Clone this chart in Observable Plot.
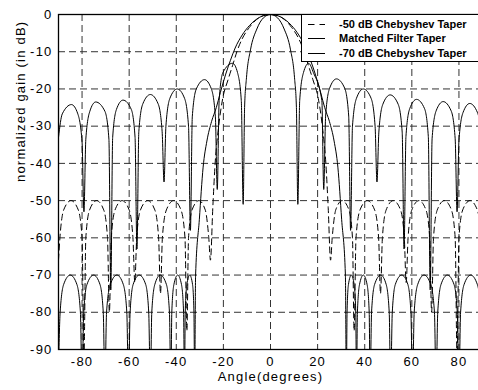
<!DOCTYPE html>
<html>
<head>
<meta charset="utf-8">
<script src="https://cdn.jsdelivr.net/npm/d3@7"></script>
<script src="https://cdn.jsdelivr.net/npm/@observablehq/plot@0.6"></script>
<style>
  html, body { margin: 0; padding: 0; background: #fff; overflow: hidden; width: 478px; height: 390px; }
  #wrap { position: relative; width: 483px; height: 390px; }
  #legend { position: absolute; left: 301px; top: 14px; width: 190px; height: 46px; border: 1px solid #000; background: #fff;
            font: bold 11px "Liberation Sans", Arial, sans-serif; color: #000; }
  .row { position: absolute; left: 0; height: 14px; width: 100%; }
  .row svg { position: absolute; left: 6px; top: 0; }
  .row span { position: absolute; left: 37px; top: 0; line-height: 14px; white-space: nowrap; }
</style>
</head>
<body>
<div id="wrap"></div>
<script>
// Series names (legend order)
const seriesNames = ["-50 dB Chebyshev Taper", "Matched Filter Taper", "-70 dB Chebyshev Taper"];
const xTicks = [-80, -60, -40, -20, 0, 20, 40, 60, 80];
const yTicks = [0, -10, -20, -30, -40, -50, -60, -70, -80, -90];
const xLabel = "Angle(degrees)";
const yLabel = "normalized gain (in dB)";

// [angle (deg), gain (dB)]
const cheb50 = [
  [-90,-66],[-89.4,-60],[-87.8,-52.5],[-84.7,-50],[-81.6,-52.5],[-80,-60],[-79.2,-92],
  [-78.4,-60],[-76.8,-52.5],[-73.8,-50],[-70.8,-52.5],[-69.2,-60],[-68.4,-80],
  [-67.6,-60],[-66,-52.5],[-63,-50],[-60,-52.5],[-58.4,-60],[-57.6,-72],
  [-56.8,-60],[-55.2,-52.5],[-52.1,-50],[-49.1,-52.5],[-47.5,-60],[-46.7,-75],
  [-45.9,-60],[-44.2,-52.5],[-41.1,-50],[-38,-52.5],[-36.3,-60],[-35.5,-85],
  [-34.8,-60],[-33.3,-52.5],[-30.4,-50],[-27.7,-52.5],[-26.2,-60],[-25.5,-66],
  [-24.5,-52],[-23.5,-40],[-22,-30],[-20.3,-22.6],[-18,-17.5],[-16,-13.5],[-14,-9.5],[-12,-6.5],[-9,-3.5],[-6,-1.4],[-3,-0.3],[0,0],
  [3,-0.3],[6,-1.4],[9,-3.5],[12,-6.5],[14,-9.5],[16,-13.5],[18,-17.5],[20.3,-22.6],[22,-30],[23.5,-40],[24.5,-52],[25.5,-66],
  [26.2,-60],[27.7,-52.5],[30.4,-50],[33.3,-52.5],[34.8,-60],[35.5,-85],
  [36.3,-60],[38,-52.5],[41.1,-50],[44.2,-52.5],[45.9,-60],[46.7,-75],
  [47.5,-60],[49.1,-52.5],[52.1,-50],[55.2,-52.5],[56.8,-60],[57.6,-72],
  [58.4,-60],[60,-52.5],[63,-50],[66,-52.5],[67.6,-60],[68.4,-80],
  [69.2,-60],[70.8,-52.5],[73.8,-50],[76.8,-52.5],[78.4,-60],[79.2,-92],
  [80,-60],[81.6,-52.5],[84.7,-50],[87.8,-52.5],[89.4,-60],[90,-66]
];

const matched = [
  [-90,-33],[-88.4,-26.7],[-84.5,-24.2],[-81.8,-26.7],[-80,-34.2],[-79.2,-53],
  [-78.4,-33.5],[-76.7,-26],[-74.2,-23.5],[-70.3,-26],[-68.6,-33.5],[-67.8,-74],
  [-67,-33],[-65.4,-25.5],[-62.6,-23],[-59.1,-25.5],[-57.5,-33],[-56.7,-63],
  [-55.9,-31.5],[-54.2,-24],[-51,-21.5],[-47.7,-24],[-46,-31.5],[-45.2,-45],
  [-44.4,-30],[-42.7,-22.5],[-39.6,-20],[-36.5,-22.5],[-34.8,-30],[-34,-58],
  [-33.2,-27.5],[-31.5,-20],[-28,-17.5],[-25.1,-20],[-23.4,-27.5],[-22.6,-47],
  [-21.8,-23.1],[-20.2,-15.6],[-16.1,-13.1],[-14,-15.6],[-12.4,-23.1],[-11.6,-51],
  [-11,-25],[-10.2,-17],[-8.5,-9.5],[-5.8,-3.9],[-3,-0.9],[0,0],[3,-0.9],[5.8,-3.9],[8.5,-9.5],[10.2,-17],[11,-25],[11.6,-51],
  [12.4,-23.1],[14,-15.6],[16.2,-13.1],[18.2,-15.6],[21.8,-23.1],[22.6,-47],
  [23.4,-27.3],[25.1,-19.8],[28,-17.3],[31.5,-19.8],[33.2,-27.3],[34,-58],
  [34.8,-30],[36.5,-22.5],[39.4,-20],[42.7,-22.5],[44.4,-30],[45.2,-45],
  [46,-31.6],[47.7,-24.1],[50.8,-21.6],[54.2,-24.1],[55.9,-31.6],[56.7,-63],
  [57.5,-32.8],[59.1,-25.3],[62,-22.8],[65.4,-25.3],[67,-32.8],[67.8,-74],
  [68.6,-33.4],[70.3,-25.9],[73.3,-23.4],[76.7,-25.9],[78.4,-33.4],[79.2,-53],
  [80,-33.9],[81.7,-26.4],[84.6,-23.9],[87.9,-26.4],[89.6,-33.9],[90,-38]
];

const cheb70 = [
  [-90,-95],[-89.3,-80],[-87.8,-72.5],[-85,-70],[-82.2,-72.5],[-80.7,-80],[-80,-100],
  [-79.3,-80],[-77.9,-72.5],[-75.1,-70],[-72.4,-72.5],[-71,-80],[-70.3,-100],
  [-69.6,-80],[-68,-72.5],[-65.2,-70],[-62.5,-72.5],[-61,-80],[-60.3,-100],
  [-59.6,-80],[-58.3,-72.5],[-55.7,-70],[-53,-72.5],[-51.7,-80],[-51,-100],
  [-50.4,-80],[-49.1,-72.5],[-46.8,-70],[-44.2,-72.5],[-42.9,-80],[-42.3,-100],
  [-41.9,-80],[-41,-72.5],[-39.4,-70],[-37.8,-72.5],[-36.9,-80],[-36.5,-100],
  [-36.2,-80],[-35.5,-72.5],[-34.3,-70],[-33.1,-72.5],[-32.5,-80],[-32.2,-100],
  [-31.8,-70],[-30.2,-55],[-28.6,-41],[-27,-34],[-25,-28.7],[-23,-25],[-21.3,-21],[-19,-16],[-17,-12.3],[-15,-9],[-12,-5.5],[-9,-3],[-6,-1.3],[-3,-0.3],[0,0],
  [3,-0.3],[6,-1.3],[9,-3],[12,-5.5],[15,-9],[17,-12.3],[19,-16],[21.3,-21],[23,-25],[25,-28.7],[27,-34],[28.6,-41],[30.2,-55],[31.8,-70],
  [32.2,-100],[32.5,-80],[33.1,-72.5],[34.3,-70],[35.5,-72.5],[36.2,-80],[36.5,-100],
  [36.9,-80],[37.8,-72.5],[39.4,-70],[41,-72.5],[41.9,-80],[42.3,-100],
  [42.9,-80],[44.2,-72.5],[46.8,-70],[49.1,-72.5],[50.4,-80],[51,-100],
  [51.7,-80],[53,-72.5],[55.7,-70],[58.3,-72.5],[59.6,-80],[60.3,-100],
  [61,-80],[62.5,-72.5],[65.2,-70],[68,-72.5],[69.6,-80],[70.3,-100],
  [71,-80],[72.4,-72.5],[75.1,-70],[77.9,-72.5],[79.3,-80],[80,-100],
  [80.7,-80],[82.2,-72.5],[85,-70],[87.8,-72.5],[89.3,-80],[90,-95]
];

const toRows = (arr, name) => arr.map(([angle, gain]) => ({series: name, angle, gain}));
const rows50 = toRows(cheb50, seriesNames[0]);
const rowsMF = toRows(matched, seriesNames[1]);
const rows70 = toRows(cheb70, seriesNames[2]);

const lineOpts = {x: "angle", y: "gain", curve: "monotone-x", stroke: "#000", strokeWidth: 1, clip: true};
const gridOpts = {stroke: "#333", strokeOpacity: 1, strokeWidth: 1, strokeDasharray: "7,4"};

const chart = Plot.plot({
  width: 483,
  height: 390,
  marginLeft: 58,
  marginRight: 1,
  marginTop: 14,
  marginBottom: 41,
  style: {fontFamily: "'Liberation Sans', Arial, sans-serif", fontSize: "13px", letterSpacing: "1.2px", color: "#000", background: "#fff", maxWidth: "none"},
  x: {domain: [-90, 90], ticks: xTicks, tickFormat: d => String(d), tickSize: 0, tickPadding: 7, label: null},
  y: {domain: [-90, 0], ticks: yTicks, tickFormat: d => String(d), tickSize: 0, tickPadding: 6, label: null},
  marks: [
    Plot.gridX({ticks: xTicks, ...gridOpts}),
    Plot.gridY({ticks: yTicks, ...gridOpts}),
    Plot.line(rows50, {...lineOpts, strokeDasharray: "6,4"}),
    Plot.line(rowsMF, lineOpts),
    Plot.line(rows70, lineOpts),
    Plot.frame({stroke: "#000", strokeWidth: 1.3}),
    Plot.text([xLabel], {text: d => d, frameAnchor: "bottom", dy: 31.5, fontSize: 13}),
    Plot.text([yLabel], {text: d => d, frameAnchor: "left", dx: -38, rotate: -90, fontSize: 13})
  ]
});

const wrap = document.getElementById("wrap");
wrap.appendChild(chart);

// Legend box (inside plot area, top right)
const legend = document.createElement("div");
legend.id = "legend";
const rowTops = [2, 16.3, 31];
const dashes = ["6.5,5", null, null];
seriesNames.forEach((name, i) => {
  const row = document.createElement("div");
  row.className = "row";
  row.style.top = rowTops[i] + "px";
  const svg = d3.create("svg").attr("width", 18).attr("height", 14);
  svg.append("line").attr("x1", 0).attr("x2", 17).attr("y1", 7.5).attr("y2", 7.5)
    .attr("stroke", "#000").attr("stroke-width", 1)
    .attr("stroke-dasharray", dashes[i]);
  row.appendChild(svg.node());
  const span = document.createElement("span");
  span.textContent = name;
  row.appendChild(span);
  legend.appendChild(row);
});
wrap.appendChild(legend);
</script>
</body>
</html>
